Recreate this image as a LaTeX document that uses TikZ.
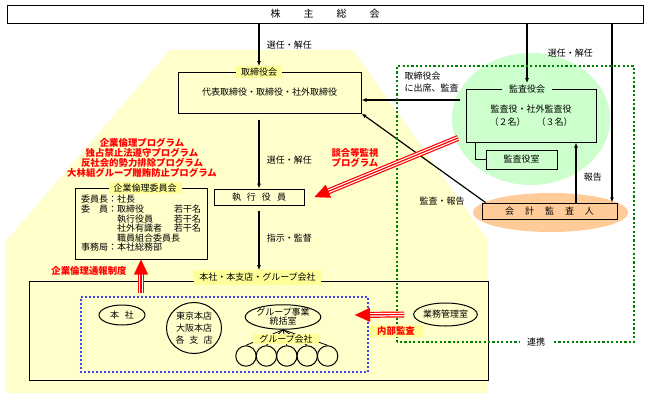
\documentclass[tikz,border=0pt]{standalone}
\usepackage{fontspec}
\setmainfont{Noto Sans CJK JP}
\usetikzlibrary{arrows.meta,positioning,shapes.geometric}
\definecolor{paleyellow}{HTML}{FFFFCC}
\definecolor{tagyellow}{HTML}{FFFF99}
\definecolor{palegreen}{HTML}{CCFFCC}
\definecolor{peach}{HTML}{FFCC99}
\definecolor{linkgreen}{HTML}{008000}
\newcommand{\redarrow}[2]{%
  \draw[red,line width=6pt,shorten >=12pt] (#1) -- (#2);
  \draw[white,line width=3.6pt,shorten >=12pt] (#1) -- (#2);
  \draw[red,line width=1.2pt,shorten >=12pt] (#1) -- (#2);
  \draw[red,line width=0.1pt,-{Triangle[length=15pt,width=14pt]}] (#1) -- (#2);}

\begin{document}
\begin{tikzpicture}[x=1pt,y=-1pt,>={Latex[length=5pt,width=4pt]},
  every node/.style={font=\fontsize{9}{10}\selectfont},
  box/.style={draw,line width=1pt,inner sep=0pt},
  oval/.style={draw,ellipse,line width=1pt,inner sep=0pt,align=center},
  tag/.style={fill=tagyellow,inner xsep=5pt,inner ysep=1.5pt},
  redtext/.style={text=red,align=center,font=\fontsize{9.4}{10}\selectfont\bfseries},
  link/.style={->,line width=1.2pt}]
  \useasboundingbox (0,0) rectangle (648,399);
  \fill[paleyellow] (5,393) -- (5,242) -- (170,50) -- (353,50) -- (488,240) -- (488,393) -- cycle;
  \fill[palegreen] (531,119) ellipse (79 and 66);
  \fill[peach] (550.5,212.5) ellipse (77.5 and 19.5);

  \node[box,minimum width=636pt,minimum height=18pt,font=\fontsize{10}{10}\selectfont] (agm) at (325,14) {株\hspace{23pt}主\hspace{23pt}総\hspace{23pt}会};
  \node[box,minimum width=183pt,minimum height=41pt] (board) at (269.5,92.5) {代表取締役・取締役・社外取締役};
  \node[tag] (boardtag) at (259,72) {取締役会};
  \node[box,minimum width=90pt,minimum height=16pt] (exec) at (259,197) {執\hspace{6pt}行\hspace{6pt}役\hspace{6pt}員};

  \node[redtext] (progs) at (142,157.5) {企業倫理プログラム\\独占禁止法遵守プログラム\\反社会的勢力排除プログラム\\大林組グループ贈賄防止プログラム};
  \node[box,minimum width=132pt,minimum height=71pt,text width=120pt,inner xsep=6pt,align=left,font=\fontsize{9}{9.6}\selectfont] (ethics) at (141,223.5)
    {委員長：社長\\
     \makebox[27pt][s]{委\hfill 員}：\makebox[57pt][l]{取締役}若干名\\
     \hspace*{36pt}\makebox[57pt][l]{執行役員}若干名\\
     \hspace*{36pt}\makebox[57pt][l]{社外有識者}若干名\\
     \hspace*{36pt}職員組合委員長\\
     事務局：本社総務部};
  \node[tag] (ethicstag) at (145,188) {企業倫理委員会};

  \node[box,minimum width=459pt,minimum height=99pt] (group) at (258.5,330.5) {};
  \node[tag,inner ysep=3pt] (grouptag) at (257.5,277.5) {本社・本支店・グループ会社};
  \node[draw=blue,line width=2.4pt,line cap=round,dash pattern=on 0pt off 4pt,minimum width=287pt,minimum height=75pt] (units) at (224.5,334.5) {};
  \node[oval,minimum width=46pt,minimum height=20pt] (honsha) at (122,315) {本\hspace{6pt}社};
  \node[oval,minimum width=55pt,minimum height=51pt,font=\fontsize{9}{12}\selectfont] (branches) at (194,328) {東京本店\\大阪本店\\各\hspace{5pt}支\hspace{5pt}店};
  \node[oval,minimum width=70pt,minimum height=24pt,font=\fontsize{9}{9}\selectfont] (hq) at (283,317) {グループ事業\\統括室};
  \foreach \i in {1,...,5}{
    \node[draw,circle,line width=1pt,minimum size=20.4pt,inner sep=0pt] (gc\i) at (225.6+20.4*\i,356) {};
    \draw[line width=0.8pt] (hq.south) -- (gc\i.north);
  }
  \node[tag,inner xsep=6pt,inner ysep=0.5pt] (gctag) at (286,339) {グループ会社};
  \node[oval,minimum width=63pt,minimum height=23pt] (audit) at (445.5,314.5) {業務管理室};

  \node[box,minimum width=130pt,minimum height=53pt,align=center,font=\fontsize{9}{13}\selectfont] (kansa) at (531,115.5) {監査役・社外監査役\\（２名）\hspace{11pt}（３名）};
  \node[fill=palegreen,inner xsep=7pt,inner ysep=1.5pt] (kansatag) at (527,89) {監査役会};
  \node[box,minimum width=71pt,minimum height=19pt] (office) at (521.5,159.5) {監査役室};
  \node[box,minimum width=135pt,minimum height=16pt] (kaikei) at (549.5,211) {会\hspace{11pt}計\hspace{11pt}監\hspace{11pt}査\hspace{11pt}人};

  \draw[link] (agm.south -| boardtag) -- node[right=4pt] {選任・解任} (boardtag.north);
  \draw[link,shorten <=6pt] (board.south -| exec.north) -- node[right=4pt,pos=0.62] {選任・解任} (exec.north);
  \draw[link,shorten <=5pt] (exec.south) -- node[right=4pt] {指示・監督} (exec.south |- grouptag.north);
  \draw[link] (agm.south -| kansatag) -- node[right=17pt] {選任・解任} (kansatag.north);
  \draw[link] ([xshift=-5.5pt]kaikei.north east |- agm.south) -- ([xshift=-5.5pt]kaikei.north east);
  \draw[link] ([xshift=26.5pt]kaikei.north) -- node[right=4pt,pos=0.43] {報告} ([xshift=26.5pt]kaikei.north |- kansa.south);
  \draw[link] ([xshift=4pt]kaikei.north west) -- (board.south east);
  \node (report) at (442,201) {監査・報告};
  \coordinate (attend) at (460,100);
  \draw[link] (attend) -- (attend -| board.east);
  \node[anchor=west,align=left,font=\fontsize{9}{12}\selectfont] (attendlbl) at (401,82) {取締役会\\に出席、監査};
  \draw[line width=1pt] ([xshift=10pt]kansa.south west) |- (office.west);

  \draw[linkgreen,line width=2.2pt,dash pattern=on 2.2pt off 2.2pt] (397,342) -- (397,66) -- (634,66) -- (634,342) -- cycle;
  \node[fill=white,inner xsep=7pt] (renkei) at (536,342) {連携};

  \coordinate (dangostart) at (458,138);
  \redarrow{dangostart}{[xshift=10pt]exec.east}
  \node[redtext] (dangolbl) at (355,158) {談合等監視\\プログラム};
  \redarrow{[yshift=-33pt]ethics.south}{ethics.south}
  \node[redtext] (hotline) at (89,271) {企業倫理通報制度};
  \coordinate (naibutip) at (355,315);
  \redarrow{[xshift=-9pt]audit.west}{naibutip}
  \node[tag,redtext,inner xsep=8pt] (naibu) at (396,331) {内部監査};
\end{tikzpicture}
\end{document}
